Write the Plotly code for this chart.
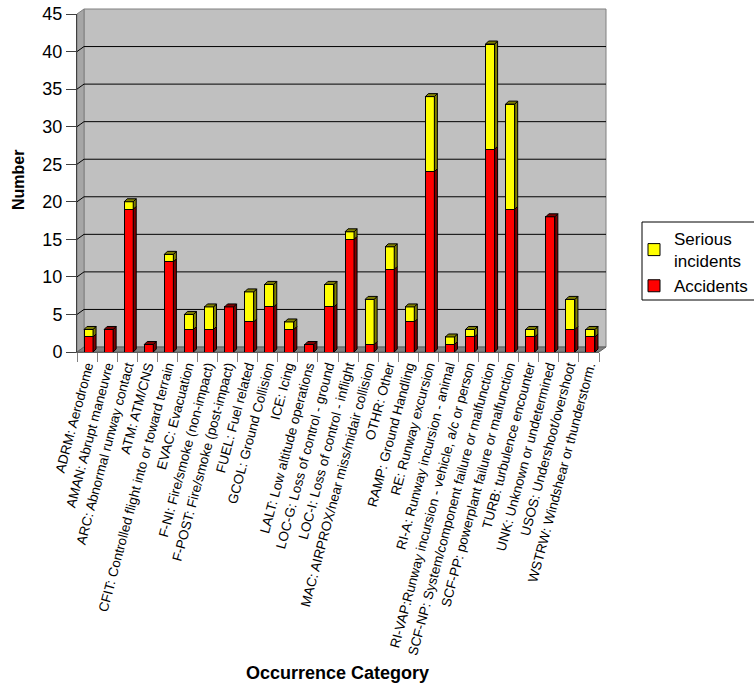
import plotly.graph_objects as go

# ---- data -------------------------------------------------------------
categories = [
    "ADRM: Aerodrome",
    "AMAN: Abrupt maneuvre",
    "ARC: Abnormal runway contact",
    "ATM: ATM/CNS",
    "CFIT: Controlled flight into or toward terrain",
    "EVAC: Evacuation",
    "F-NI: Fire/smoke (non-impact)",
    "F-POST: Fire/smoke (post-impact)",
    "FUEL: Fuel related",
    "GCOL: Ground Collision",
    "ICE: Icing",
    "LALT: Low altitude operations",
    "LOC-G: Loss of control - ground",
    "LOC-I: Loss of control - inflight",
    "MAC: AIRPROX/near miss/midair collision",
    "OTHR: Other",
    "RAMP: Ground Handling",
    "RE: Runway excursion",
    "RI-A: Runway incursion - animal",
    "RI-VAP:Runway incursion - vehicle, a/c or person",
    "SCF-NP: System/component failure or malfunction",
    "SCF-PP: powerplant failure or malfunction",
    "TURB: turbulence encounter",
    "UNK: Unknown or undetermined",
    "USOS: Undershoot/overshoot",
    "WSTRW: Windshear or thunderstorm.",
]
accidents = [2, 3, 19, 1, 12, 3, 3, 6, 4, 6, 3, 1, 6, 15, 1, 11, 4, 24, 1, 2, 27, 19, 2, 18, 3, 2]
serious_incidents = [1, 0, 1, 0, 1, 2, 3, 0, 4, 3, 1, 0, 3, 1, 6, 3, 2, 10, 1, 1, 14, 14, 1, 0, 4, 1]
y_tick_values = [0, 5, 10, 15, 20, 25, 30, 35, 40, 45]

# ---- geometry / style --------------------------------------------------
W, H = 754, 685
ML, MR, MT, MB = 77, 155, 14, 333
PW, PH = W - ML - MR, H - MT - MB
Y_MAX = 45
n = len(categories)
px_per_cat = PW / n
px_per_unit = PH / Y_MAX

WALL_DX, WALL_DY = 7, 5          # depth of the chart box, pixels
BAR_DX, BAR_DY = 3, 3            # depth of each column, pixels
BAR_W, BAR_OFF = 0.45, -0.15

RED, RED_DARK = "#FF0000", "#800000"
YEL, YEL_DARK = "#FFFF00", "#808000"
FONT = "Liberation Sans, Arial, sans-serif"

fig = go.Figure()
fig.add_trace(go.Bar(
    x=categories, y=accidents, name="Accidents",
    width=BAR_W, offset=BAR_OFF,
    marker=dict(color=RED, line=dict(color="black", width=1)),
))
fig.add_trace(go.Bar(
    x=categories, y=serious_incidents, name="Serious<br>incidents",
    width=BAR_W, offset=BAR_OFF,
    marker=dict(color=YEL, line=dict(color="black", width=1)),
))

shapes = []
pdx, pdy = WALL_DX / PW, WALL_DY / PH

# back wall, left wall and floor of the box
shapes.append(dict(type="rect", xref="paper", yref="paper", layer="below",
                   x0=pdx, x1=1 + pdx, y0=pdy, y1=1 + pdy,
                   fillcolor="#C0C0C0", line=dict(color="#808080", width=1)))
shapes.append(dict(type="path", xref="paper", yref="paper", layer="below",
                   path=f"M0,0 L{pdx},{pdy} L{pdx},{1 + pdy} L0,1 Z",
                   fillcolor="#A6A6A6", line=dict(color="#808080", width=1)))
shapes.append(dict(type="path", xref="paper", yref="paper", layer="below",
                   path=f"M0,0 L1,0 L{1 + pdx},{pdy} L{pdx},{pdy} Z",
                   fillcolor="#808080", line=dict(color="#606060", width=1)))

# gridlines on the back wall (and their short run across the left wall)
gdy = WALL_DY / px_per_unit
for v in y_tick_values[1:-1]:
    shapes.append(dict(type="line", xref="paper", yref="y", layer="below",
                       x0=pdx, x1=1 + pdx, y0=v + gdy, y1=v + gdy,
                       line=dict(color="black", width=1)))
    shapes.append(dict(type="line", xref="paper", yref="y", layer="below",
                       x0=0, x1=pdx, y0=v, y1=v + gdy,
                       line=dict(color="black", width=1)))

# side and top faces of the stacked columns
bdx = BAR_DX / px_per_cat
bdy = BAR_DY / px_per_unit
for i in range(n):
    xl = i + BAR_OFF
    xr = xl + BAR_W
    segs = []
    if accidents[i] > 0:
        segs.append((0, accidents[i], RED_DARK))
    if serious_incidents[i] > 0:
        segs.append((accidents[i], accidents[i] + serious_incidents[i], YEL_DARK))
    for y0, y1, col in segs:
        shapes.append(dict(type="path", xref="x", yref="y",
                           path=f"M{xr},{y0} L{xr + bdx},{y0 + bdy} L{xr + bdx},{y1 + bdy} L{xr},{y1} Z",
                           fillcolor=col, line=dict(color="black", width=1)))
    if segs:
        y1, col = segs[-1][1], segs[-1][2]
        shapes.append(dict(type="path", xref="x", yref="y",
                           path=f"M{xl},{y1} L{xl + bdx},{y1 + bdy} L{xr + bdx},{y1 + bdy} L{xr},{y1} Z",
                           fillcolor=col, line=dict(color="black", width=1)))

# legend frame
shapes.append(dict(type="rect", xref="paper", yref="paper",
                   x0=(642 - ML) / PW, x1=(760 - ML) / PW,
                   y0=(H - MB - 300) / PH, y1=(H - MB - 222) / PH,
                   fillcolor="white", line=dict(color="black", width=1), layer="below"))

fig.update_layout(
    width=W, height=H,
    margin=dict(l=ML, r=MR, t=MT, b=MB, autoexpand=False),
    paper_bgcolor="white", plot_bgcolor="rgba(0,0,0,0)",
    barmode="stack",
    font=dict(family=FONT, color="black"),
    shapes=shapes,
    showlegend=True,
    legend=dict(
        x=(634 - ML) / PW, y=(H - MB - 221) / PH, xanchor="left", yanchor="top",
        traceorder="reversed", bgcolor="rgba(0,0,0,0)", borderwidth=0,
        font=dict(size=17, family=FONT), itemwidth=30, tracegroupgap=2,
    ),
    xaxis=dict(
        type="category", range=[-0.5, n - 0.5], tickson="boundaries",
        ticks="outside", ticklen=9, tickcolor="#808080", tickwidth=1,
        showline=True, linecolor="#606060", showgrid=False, zeroline=False,
        tickangle=-75, tickfont=dict(size=13.5, family=FONT),
        automargin=False,
    ),
    yaxis=dict(
        range=[0, Y_MAX], tickvals=y_tick_values,
        ticks="outside", ticklen=10, tickcolor="#404040", tickwidth=1,
        showline=True, linecolor="#404040", linewidth=1,
        showgrid=False, zeroline=False,
        tickfont=dict(size=18, family=FONT),
        automargin=False,
    ),
    annotations=[
        dict(text="<b>Occurrence Category</b>", xref="paper", yref="paper",
             x=(337 - ML) / PW, y=(H - MB - 673) / PH, showarrow=False,
             xanchor="center", yanchor="middle",
             font=dict(size=18, family=FONT)),
        dict(text="<b>Number</b>", xref="paper", yref="paper",
             x=(19 - ML) / PW, y=(H - MB - 180) / PH, showarrow=False,
             xanchor="center", yanchor="middle",
             textangle=-90, font=dict(size=16, family=FONT)),
    ],
)

fig.write_html("out.html")
